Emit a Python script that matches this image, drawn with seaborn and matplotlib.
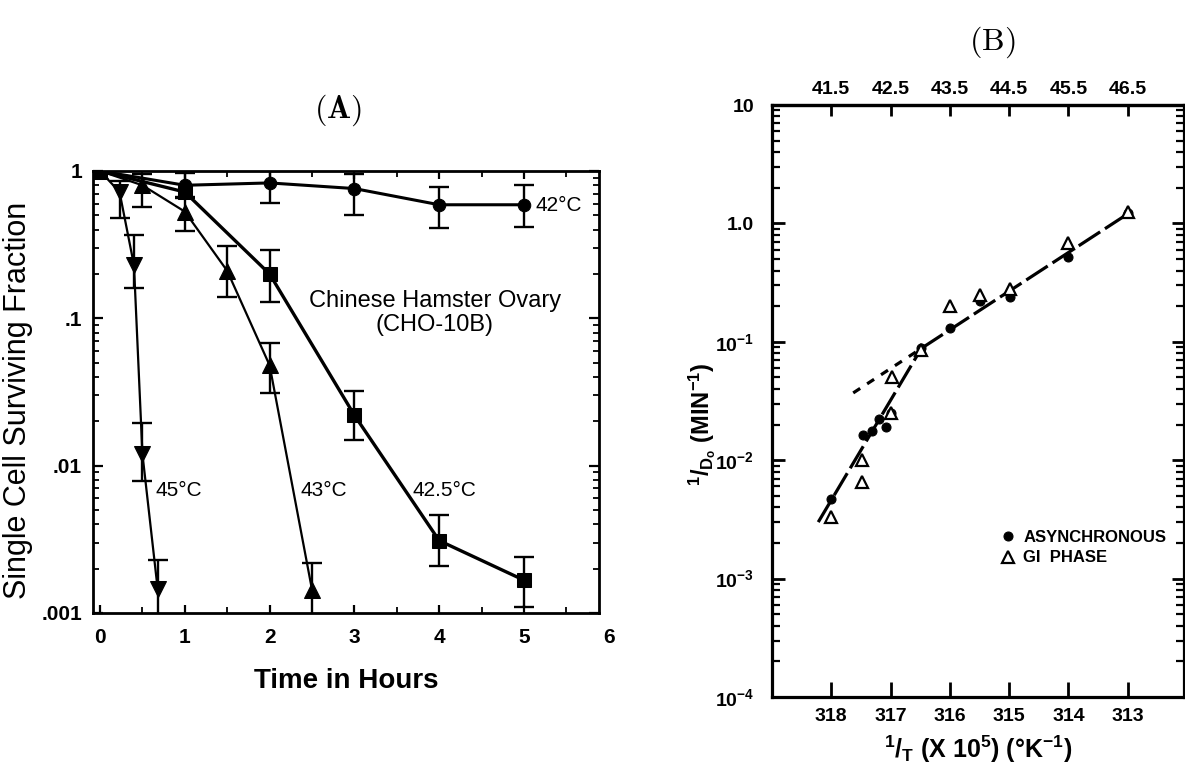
import numpy as np
import matplotlib
matplotlib.use("Agg")
import matplotlib.pyplot as plt
import seaborn as sns
from matplotlib.ticker import LogLocator, NullFormatter

# ---------------- Panel A data (survival curves, CHO-10B) ----------------
t_42 = [0, 1, 2, 3, 4, 5]
s_42 = [1.0, 0.80, 0.83, 0.76, 0.59, 0.59]
lo_42 = [np.nan, 0.66, 0.61, 0.50, 0.41, 0.42]
hi_42 = [np.nan, 0.97, 1.0, 0.96, 0.78, 0.80]

t_425 = [0, 1, 2, 3, 4, 5]
s_425 = [1.0, 0.72, 0.20, 0.022, 0.0031, 0.00167]
lo_425 = [np.nan, np.nan, 0.13, 0.015, 0.0021, 0.0011]
hi_425 = [np.nan, np.nan, 0.29, 0.032, 0.0046, 0.0024]

t_43 = [0, 0.5, 1, 1.5, 2, 2.5]
s_43 = [1.0, 0.80, 0.53, 0.21, 0.048, 0.00144]
lo_43 = [np.nan, 0.57, 0.39, 0.14, 0.031, 0.0008]
hi_43 = [np.nan, 0.96, 0.67, 0.31, 0.068, 0.0022]

t_45 = [0, 0.23, 0.40, 0.50, 0.68]
s_45 = [1.0, 0.72, 0.23, 0.012, 0.00145]
lo_45 = [np.nan, 0.48, 0.16, 0.0079, 0.0008]
hi_45 = [np.nan, 0.85, 0.37, 0.0194, 0.0023]

a_xticks = [0, 1, 2, 3, 4, 5]
a_yticks = [0.001, 0.01, 0.1, 1]
a_yticklabels = [".001", ".01", ".1", "1"]

# ---------------- Panel B data (Arrhenius plot) ----------------
invT_async = [318.0, 317.47, 317.31, 317.20, 317.08, 316.99, 316.48, 315.99, 315.49, 314.99, 314.01, 313.0]
rate_async = [0.0047, 0.0162, 0.0178, 0.0224, 0.019, 0.025, 0.089, 0.13, 0.22, 0.24, 0.52, 1.23]
invT_g1 = [318.0, 317.48, 317.48, 316.98, 316.99, 316.48, 315.99, 315.49, 314.99, 314.01, 313.0]
rate_g1 = [0.0033, 0.0065, 0.0100, 0.050, 0.025, 0.085, 0.20, 0.25, 0.28, 0.68, 1.26]

fit_steep_x = [318.22, 316.48]
fit_steep_y = [0.0030, 0.088]
fit_ext_x = [317.63, 316.48]
fit_ext_y = [0.037, 0.088]
fit_shallow_x = [316.48, 313.06]
fit_shallow_y = [0.088, 1.15]

b_xticks = [318, 317, 316, 315, 314, 313]
b_xticklabels = ["318", "317", "316", "315", "314", "313"]
b_toplabels = ["41.5", "42.5", "43.5", "44.5", "45.5", "46.5"]
b_yticks = [1e-4, 1e-3, 1e-2, 1e-1, 1, 10]
b_yticklabels = [r"$10^{-4}$", r"$10^{-3}$", r"$10^{-2}$", r"$10^{-1}$", "1.0", "10"]

# ---------------- style ----------------
sns.set_theme(style="ticks")
plt.rcParams.update({
    "font.family": ["Liberation Sans", "DejaVu Sans"],
    "mathtext.fontset": "custom",
    "mathtext.rm": "Liberation Sans:bold",
    "mathtext.bf": "Liberation Sans:bold",
    "mathtext.it": "Liberation Sans:bold",
    "mathtext.sf": "Liberation Sans:bold",
    "mathtext.default": "bf",
    "axes.edgecolor": "black",
    "xtick.color": "black",
    "ytick.color": "black",
    "text.color": "black",
    "axes.labelcolor": "black",
})

W, H = 1185, 783
fig = plt.figure(figsize=(W / 100, H / 100), dpi=100)

# ======================= Panel A =======================
axA = fig.add_axes([93 / W, 1 - 613 / H, 506 / W, 442 / H])
axA.set_yscale("log")


def draw_err(ax, t, s, lo, hi):
    t = np.asarray(t, float); s = np.asarray(s, float)
    lo = np.asarray(lo, float); hi = np.asarray(hi, float)
    m = ~np.isnan(lo)
    ax.errorbar(t[m], s[m], yerr=[s[m] - lo[m], hi[m] - s[m]], fmt="none",
                ecolor="black", elinewidth=1.7, capsize=7.5, capthick=1.7)


series = [
    (t_42, s_42, lo_42, hi_42, "o", 9, 2.2),
    (t_425, s_425, lo_425, hi_425, "s", 10, 2.4),
    (t_43, s_43, lo_43, hi_43, "^", 12, 1.6),
    (t_45, s_45, lo_45, hi_45, "v", 12, 1.6),
]
for t, s, lo, hi, mk, ms, lw in series:
    sns.lineplot(x=t, y=s, ax=axA, color="black", lw=lw, marker=mk,
                 markersize=ms, markeredgecolor="black", markerfacecolor="black",
                 estimator=None, sort=False)
    draw_err(axA, t, s, lo, hi)

axA.set_xlim(-0.083, 5.885)
axA.set_ylim(0.001, 1)
axA.set_xticks(a_xticks, [str(v) for v in a_xticks], fontweight="bold")
axA.set_xticks(np.arange(0.5, 6, 1.0), minor=True)
axA.set_yticks(a_yticks, a_yticklabels, fontweight="bold")
axA.yaxis.set_minor_locator(LogLocator(base=10, subs=np.arange(2, 10)))
axA.yaxis.set_minor_formatter(NullFormatter())
axA.tick_params(which="both", direction="in", top=True, right=True)
axA.tick_params(axis="x", which="major", length=6, width=1.6, labelsize=15, pad=11)
axA.tick_params(axis="y", which="major", length=7, width=1.6, labelsize=15, pad=8)
axA.tick_params(which="minor", length=4, width=1.3)
for sp in axA.spines.values():
    sp.set_linewidth(2.0)
    sp.set_visible(True)
axA.annotate("6", xy=(6, 0), xycoords=("data", "axes fraction"), xytext=(0, -11),
             textcoords="offset points", ha="center", va="top", fontsize=15,
             fontweight="bold", annotation_clip=False)

axA.set_xlabel("Time in Hours", fontsize=20, fontweight="bold")
axA.xaxis.set_label_coords(0.5, -0.125)
axA.set_ylabel("Single Cell Surviving Fraction", fontsize=22)
axA.yaxis.set_label_coords(-0.118, 0.48)

axA.text(5.14, 0.58, "42°C", fontsize=15, va="center", ha="left")
axA.text(0.66, 0.0068, "45°C", fontsize=15, va="center", ha="left")
axA.text(2.36, 0.0068, "43°C", fontsize=15, va="center", ha="left")
axA.text(3.68, 0.0068, "42.5°C", fontsize=15, va="center", ha="left")
axA.text(3.95, 0.132, "Chinese Hamster Ovary", fontsize=17, ha="center", va="center")
axA.text(3.95, 0.090, "(CHO-10B)", fontsize=17, ha="center", va="center")

fig.text(338 / W, 1 - 110 / H, r"$\mathbf{(A)}$", math_fontfamily="cm",
         fontsize=23, ha="center", va="center")

# ======================= Panel B =======================
axB = fig.add_axes([772 / W, 1 - 697 / H, 412 / W, 592 / H])
axB.set_yscale("log")

sns.lineplot(x=fit_steep_x, y=fit_steep_y, ax=axB, color="black", lw=2.3,
             linestyle=(0, (8, 1.8)), estimator=None, sort=False)
sns.lineplot(x=fit_ext_x, y=fit_ext_y, ax=axB, color="black", lw=2.3,
             linestyle=(0, (2.6, 2.6)), estimator=None, sort=False)
sns.lineplot(x=fit_shallow_x, y=fit_shallow_y, ax=axB, color="black", lw=2.3,
             linestyle=(0, (8, 1.8)), estimator=None, sort=False)

sns.lineplot(x=invT_async, y=rate_async, ax=axB, color="black", linestyle="",
             marker="o", markersize=6.5, markerfacecolor="black",
             markeredgecolor="black", estimator=None, sort=False,
             label="ASYNCHRONOUS")
sns.lineplot(x=invT_g1, y=rate_g1, ax=axB, color="black", linestyle="",
             marker="^", markersize=8, markerfacecolor="white",
             markeredgecolor="black", markeredgewidth=1.6, estimator=None,
             sort=False, label="GI  PHASE")

axB.set_xlim(319, 312.05)
axB.set_ylim(1e-4, 10)
axB.set_xticks(b_xticks, b_xticklabels, fontweight="bold")
axB.xaxis.set_minor_locator(plt.NullLocator())
axB.set_yticks(b_yticks, b_yticklabels, fontweight="bold")
axB.yaxis.set_minor_locator(LogLocator(base=10, subs=np.arange(2, 10)))
axB.yaxis.set_minor_formatter(NullFormatter())
axB.tick_params(which="both", direction="in", right=True, top=False)
axB.tick_params(axis="x", which="major", length=11, width=2.0, labelsize=14, pad=8)
axB.tick_params(axis="y", which="major", length=9, width=2.0, labelsize=14, pad=13)
axB.tick_params(axis="y", which="minor", length=6, width=1.6)
for sp in axB.spines.values():
    sp.set_linewidth(2.3)
    sp.set_visible(True)

sec = axB.secondary_xaxis("top", functions=(lambda x: x, lambda x: x))
sec.set_xticks(b_xticks, b_toplabels, fontweight="bold")
sec.xaxis.set_minor_locator(plt.NullLocator())
sec.tick_params(which="major", direction="in", length=8, width=2.0, labelsize=14, pad=5)
sec.spines["top"].set_linewidth(2.3)

axB.set_xlabel(r"$^{1}/_{T}$ (X 10$^{5}$) ($\degree$K$^{-1}$)", fontsize=18,
               fontweight="bold")
axB.xaxis.set_label_coords(0.5, -0.062)
axB.set_ylabel(r"$^{1}/_{D_o}$ (MIN$^{-1}$)", fontsize=17, fontweight="bold")
axB.yaxis.set_label_coords(-0.13, 0.46)

leg = axB.legend(loc="upper left", bbox_to_anchor=(0.553, 0.282), frameon=False,
                 fontsize=12, handlelength=1.0, handletextpad=0.4,
                 labelspacing=0.32, borderpad=0, borderaxespad=0)
for txt in leg.get_texts():
    txt.set_fontweight("bold")

fig.text(992 / W, 1 - 42 / H, r"$\mathrm{(B)}$", math_fontfamily="cm",
         fontsize=23, ha="center", va="center")

fig.savefig("out.png", dpi=100)
